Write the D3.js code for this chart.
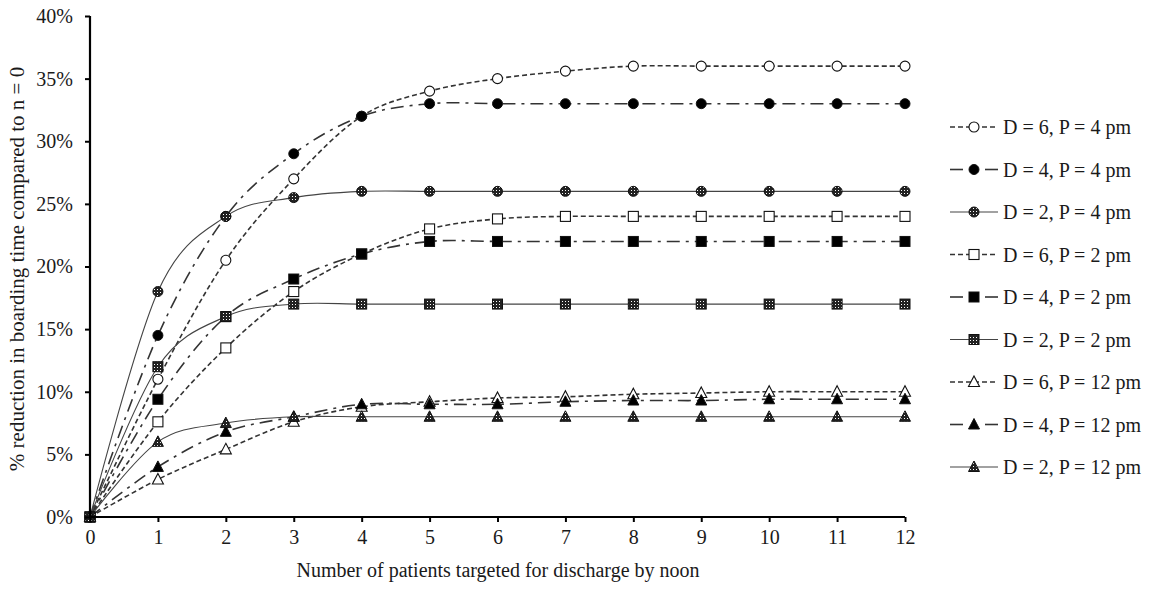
<!DOCTYPE html>
<html>
<head>
<meta charset="utf-8">
<script src="https://cdn.jsdelivr.net/npm/d3@7"></script>
<style>
  html, body { margin: 0; padding: 0; background: #fff; }
  svg { display: block; }
  text { font-family: "Liberation Serif", "Times New Roman", serif; fill: #1a1a1a; }
</style>
</head>
<body>
<svg id="chart" width="1152" height="593"></svg>
<script>
// ---- data ----
const xValues = [0, 1, 2, 3, 4, 5, 6, 7, 8, 9, 10, 11, 12];
const yTicks = [0, 5, 10, 15, 20, 25, 30, 35, 40];
const seriesNames = [
  "D = 6, P = 4 pm", "D = 4, P = 4 pm", "D = 2, P = 4 pm",
  "D = 6, P = 2 pm", "D = 4, P = 2 pm", "D = 2, P = 2 pm",
  "D = 6, P = 12 pm", "D = 4, P = 12 pm", "D = 2, P = 12 pm"
];
const d6p4 = [0, 11, 20.5, 27, 32, 34, 35, 35.6, 36, 36, 36, 36, 36];
const d4p4 = [0, 14.5, 24, 29, 32, 33, 33, 33, 33, 33, 33, 33, 33];
const d2p4 = [0, 18, 24, 25.5, 26, 26, 26, 26, 26, 26, 26, 26, 26];
const d6p2 = [0, 7.6, 13.5, 18, 21, 23, 23.8, 24, 24, 24, 24, 24, 24];
const d4p2 = [0, 9.4, 16, 19, 21, 22, 22, 22, 22, 22, 22, 22, 22];
const d2p2 = [0, 12, 16, 17, 17, 17, 17, 17, 17, 17, 17, 17, 17];
const d6p12 = [0, 3, 5.4, 7.6, 8.8, 9.2, 9.5, 9.6, 9.8, 9.9, 10, 10, 10];
const d4p12 = [0, 4, 6.8, 8, 9, 9, 9, 9.2, 9.3, 9.3, 9.4, 9.4, 9.4];
const d2p12 = [0, 6, 7.5, 8, 8, 8, 8, 8, 8, 8, 8, 8, 8];
const seriesValues = [d6p4, d4p4, d2p4, d6p2, d4p2, d2p2, d6p12, d4p12, d2p12];
// style keys: line style by D, marker shape by P, marker fill by D
const lineStyleOf = ["dash", "dashdot", "solid", "dash", "dashdot", "solid", "dash", "dashdot", "solid"];
const shapeOf = ["circle", "circle", "circle", "square", "square", "square", "triangle", "triangle", "triangle"];
const fillOf = ["open", "filled", "hatched", "open", "filled", "hatched", "open", "filled", "hatched"];

const svg = d3.select("#chart");
const defs = svg.append("defs");
const pat = defs.append("pattern").attr("id", "hatch").attr("patternUnits", "userSpaceOnUse")
  .attr("width", 3).attr("height", 3);
pat.append("rect").attr("width", 3).attr("height", 3).attr("fill", "#222");
pat.append("rect").attr("x", 1).attr("y", 1).attr("width", 1).attr("height", 1).attr("fill", "#fff");

const x = d3.scaleLinear().domain([0, 12]).range([90, 905]);
const y = d3.scaleLinear().domain([0, 40]).range([517, 16]);

const dashes = { dash: "5,3", dashdot: "13,6,3,6", solid: null };
const widths = { dash: 1.6, dashdot: 1.6, solid: 1.1 };
const strokeCol = { dash: "#333", dashdot: "#333", solid: "#444" };

function drawMarker(g, shape, fill, cx, cy) {
  const f = fill === "open" ? "#fff" : fill === "filled" ? "#000" : "url(#hatch)";
  const sw = fill === "open" ? 1.1 : 1;
  if (shape === "circle") {
    g.append("circle").attr("cx", cx).attr("cy", cy).attr("r", 5)
      .attr("fill", f).attr("stroke", "#111").attr("stroke-width", sw);
  } else if (shape === "square") {
    g.append("rect").attr("x", cx - 5).attr("y", cy - 5).attr("width", 10).attr("height", 10)
      .attr("fill", f).attr("stroke", "#111").attr("stroke-width", sw);
  } else {
    g.append("path").attr("d", `M${cx},${cy - 6}L${cx + 5.5},${cy + 4.5}L${cx - 5.5},${cy + 4.5}Z`)
      .attr("fill", f).attr("stroke", "#111").attr("stroke-width", sw);
  }
}

// lines
const line = d3.line().x((d, i) => x(xValues[i])).y(d => y(d)).curve(d3.curveCatmullRom.alpha(0));
const plot = svg.append("g");
seriesValues.forEach((vals, k) => {
  const st = lineStyleOf[k];
  plot.append("path").attr("d", line(vals)).attr("fill", "none")
    .attr("stroke", strokeCol[st]).attr("stroke-width", widths[st])
    .attr("stroke-dasharray", dashes[st]);
});
// markers
seriesValues.forEach((vals, k) => {
  const g = plot.append("g");
  vals.forEach((v, i) => drawMarker(g, shapeOf[k], fillOf[k], x(xValues[i]), y(v)));
});

// axes
const yAxis = svg.append("g").attr("transform", "translate(90,0)")
  .call(d3.axisLeft(y).tickValues(yTicks).tickSize(5).tickPadding(12).tickFormat(d => d + "%"));
const xAxis = svg.append("g").attr("transform", "translate(0,517)")
  .call(d3.axisBottom(x).tickValues(xValues).tickSize(5).tickPadding(8).tickFormat(d3.format("d")));
[yAxis, xAxis].forEach(a => {
  a.select(".domain").attr("stroke", "#000").attr("stroke-width", 2.2);
  a.selectAll(".tick line").attr("stroke", "#000").attr("stroke-width", 2);
  a.selectAll(".tick text").attr("font-size", 20).attr("font-family", "Liberation Serif, serif").attr("fill", "#1a1a1a");
});
yAxis.select(".domain").attr("d", "M0,16V517");
xAxis.select(".domain").attr("d", "M90,0H905");

// axis titles
svg.append("text").attr("x", 498).attr("y", 577).attr("text-anchor", "middle")
  .attr("font-size", 20).text("Number of patients targeted for discharge by noon");
svg.append("text").attr("transform", "translate(24,269) rotate(-90)").attr("text-anchor", "middle")
  .attr("font-size", 21).text("% reduction in boarding time compared to n = 0");

// legend
const leg = svg.append("g");
seriesNames.forEach((name, k) => {
  const cy = 127 + 42.5 * k;
  const st = lineStyleOf[k];
  const g = leg.append("g");
  if (st === "dashdot") {
    g.append("line").attr("x1", 950).attr("x2", 963).attr("y1", cy).attr("y2", cy)
      .attr("stroke", "#333").attr("stroke-width", 1.6);
    g.append("line").attr("x1", 985).attr("x2", 998).attr("y1", cy).attr("y2", cy)
      .attr("stroke", "#333").attr("stroke-width", 1.6);
  } else {
    g.append("line").attr("x1", 950).attr("x2", 998).attr("y1", cy).attr("y2", cy)
      .attr("stroke", strokeCol[st]).attr("stroke-width", widths[st])
      .attr("stroke-dasharray", dashes[st]);
  }
  drawMarker(g, shapeOf[k], fillOf[k], 974, cy);
  g.append("text").attr("x", 1003).attr("y", cy + 7).attr("font-size", 20).text(name);
});
</script>
</body>
</html>
